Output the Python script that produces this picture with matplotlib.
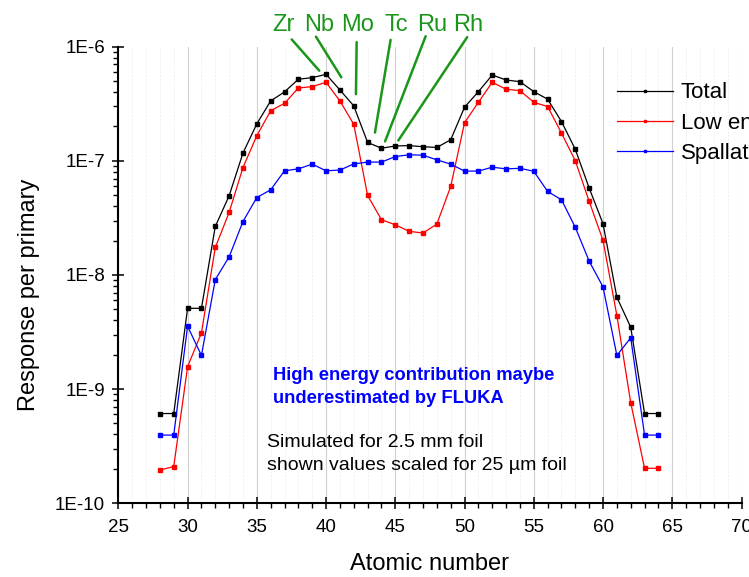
import numpy as np
import matplotlib
matplotlib.use("Agg")
import matplotlib.pyplot as plt
from matplotlib.ticker import FixedLocator, MultipleLocator, LogLocator, NullFormatter

plt.rcParams['font.family'] = ['Liberation Sans', 'DejaVu Sans']

# Atomic number and response per primary
atomic_number = np.arange(28, 65)
total = [6.1e-10, 6.1e-10, 5.1e-9, 5.1e-9, 2.66e-8, 4.94e-8, 1.17e-7, 2.11e-7, 3.35e-7, 4.02e-7,
         5.19e-7, 5.36e-7, 5.73e-7, 4.18e-7, 3.03e-7, 1.45e-7, 1.29e-7, 1.35e-7, 1.36e-7, 1.33e-7,
         1.31e-7, 1.53e-7, 2.95e-7, 4.04e-7, 5.65e-7, 5.11e-7, 4.94e-7, 4.04e-7, 3.47e-7, 2.21e-7,
         1.26e-7, 5.77e-8, 2.81e-8, 6.37e-9, 3.48e-9, 6.1e-10, 6.1e-10]
low_energy = [1.95e-10, 2.09e-10, 1.57e-9, 3.1e-9, 1.74e-8, 3.53e-8, 8.74e-8, 1.66e-7, 2.75e-7, 3.19e-7,
              4.35e-7, 4.47e-7, 4.88e-7, 3.35e-7, 2.09e-7, 4.97e-8, 3.05e-8, 2.75e-8, 2.41e-8, 2.33e-8,
              2.79e-8, 5.96e-8, 2.16e-7, 3.26e-7, 4.88e-7, 4.24e-7, 4.12e-7, 3.26e-7, 2.99e-7, 1.75e-7,
              1.0e-7, 4.41e-8, 2.01e-8, 4.4e-9, 7.59e-10, 2.02e-10, 2.02e-10]
spallation = [3.95e-10, 3.95e-10, 3.55e-9, 1.97e-9, 9.1e-9, 1.44e-8, 2.94e-8, 4.77e-8, 5.57e-8, 8.18e-8,
              8.5e-8, 9.36e-8, 8.18e-8, 8.3e-8, 9.4e-8, 9.75e-8, 9.75e-8, 1.09e-7, 1.13e-7, 1.12e-7,
              1.02e-7, 9.36e-8, 8.13e-8, 8.13e-8, 8.8e-8, 8.5e-8, 8.6e-8, 8.1e-8, 5.39e-8, 4.56e-8,
              2.61e-8, 1.32e-8, 7.85e-9, 1.97e-9, 2.81e-9, 3.95e-10, 3.95e-10]

y_ticks = [1e-10, 1e-9, 1e-8, 1e-7, 1e-6]
y_tick_labels = ['1E-10', '1E-9', '1E-8', '1E-7', '1E-6']
x_ticks = [25, 30, 35, 40, 45, 50, 55, 60, 65, 70]

# element labels: symbol, label x, line start (x, axes y), line end (x, value)
elements = ['Zr', 'Nb', 'Mo', 'Tc', 'Ru', 'Rh']
element_label_x = [36.89, 39.49, 42.24, 45.05, 47.65, 50.25]
line_start = [(37.52, 1.016), (39.27, 1.022), (42.21, 1.010), (44.66, 1.015), (47.19, 1.023), (50.19, 1.021)]
line_end = [(39.51, 6.17e-7), (41.1, 5.4e-7), (42.16, 3.84e-7), (43.53, 1.77e-7), (44.26, 1.48e-7), (45.22, 1.51e-7)]

fig = plt.figure(figsize=(7.49, 5.77), dpi=100)
ax = fig.add_axes([0.158, 0.128, 0.832, 0.791])

ax.plot(atomic_number, total, color='black', marker='s', markersize=3, lw=0.9, label='Total')
ax.plot(atomic_number, low_energy, color='red', marker='s', markersize=3, lw=0.9, label='Low energy')
ax.plot(atomic_number, spallation, color='blue', marker='s', markersize=3, lw=0.9, label='Spallation')

ax.set_yscale('log')
ax.set_xlim(25, 70)
ax.set_ylim(1e-10, 1e-6)

ax.xaxis.set_major_locator(FixedLocator(x_ticks))
ax.xaxis.set_minor_locator(MultipleLocator(1))
ax.yaxis.set_major_locator(FixedLocator(y_ticks))
ax.set_yticklabels(y_tick_labels)
ax.yaxis.set_minor_locator(LogLocator(base=10, subs=np.arange(2, 10)))
ax.yaxis.set_minor_formatter(NullFormatter())

ax.tick_params(which='major', direction='inout', length=9, width=1.1, labelsize=13.5)
ax.tick_params(axis='x', which='major', pad=7)
ax.tick_params(axis='y', which='major', pad=5)
ax.tick_params(which='minor', direction='out', length=3.5, width=1.0)

ax.grid(True, which='major', axis='x', color='#d0d0d0', lw=0.8)
ax.grid(True, which='minor', axis='x', color='#ebebeb', lw=0.6, ls=(0, (2, 2)))
ax.set_axisbelow(True)

for side in ['top', 'right']:
    ax.spines[side].set_visible(False)
for side in ['left', 'bottom']:
    ax.spines[side].set_linewidth(1.5)

ax.set_xlabel('Atomic number', fontsize=17)
ax.set_ylabel('Response per primary', fontsize=17)
ax.xaxis.set_label_coords(0.5, -0.11)
ax.yaxis.set_label_coords(-0.125, 0.456)

green = '#1a961a'
for name, lx, start, end in zip(elements, element_label_x, line_start, line_end):
    ax.text(lx, 1.035, name, color=green, fontsize=17, ha='center', va='baseline',
            transform=ax.get_xaxis_transform(), clip_on=False)
    ax.annotate('', xy=end, xycoords='data', xytext=start, textcoords=('data', 'axes fraction'),
                arrowprops=dict(arrowstyle='-', color=green, lw=1.8, shrinkA=0, shrinkB=0),
                annotation_clip=False)

ax.text(0.248, 0.2696, 'High energy contribution maybe', color='blue', fontsize=13.2,
        fontweight='bold', transform=ax.transAxes, va='baseline')
ax.text(0.248, 0.2185, 'underestimated by FLUKA', color='blue', fontsize=13.2,
        fontweight='bold', transform=ax.transAxes, va='baseline')
ax.text(0.238, 0.1234, 'Simulated for 2.5 mm foil', color='black', fontsize=14,
        transform=ax.transAxes, va='baseline')
ax.text(0.238, 0.0723, 'shown values scaled for 25 µm foil', color='black', fontsize=14,
        transform=ax.transAxes, va='baseline')

ax.legend(loc='upper left', bbox_to_anchor=(0.8007, 0.922), frameon=False, fontsize=16,
          borderpad=0, borderaxespad=0, handlelength=2.5, handletextpad=0.35,
          labelspacing=0.42, markerscale=0.6)

fig.savefig('out.png', dpi=100)
